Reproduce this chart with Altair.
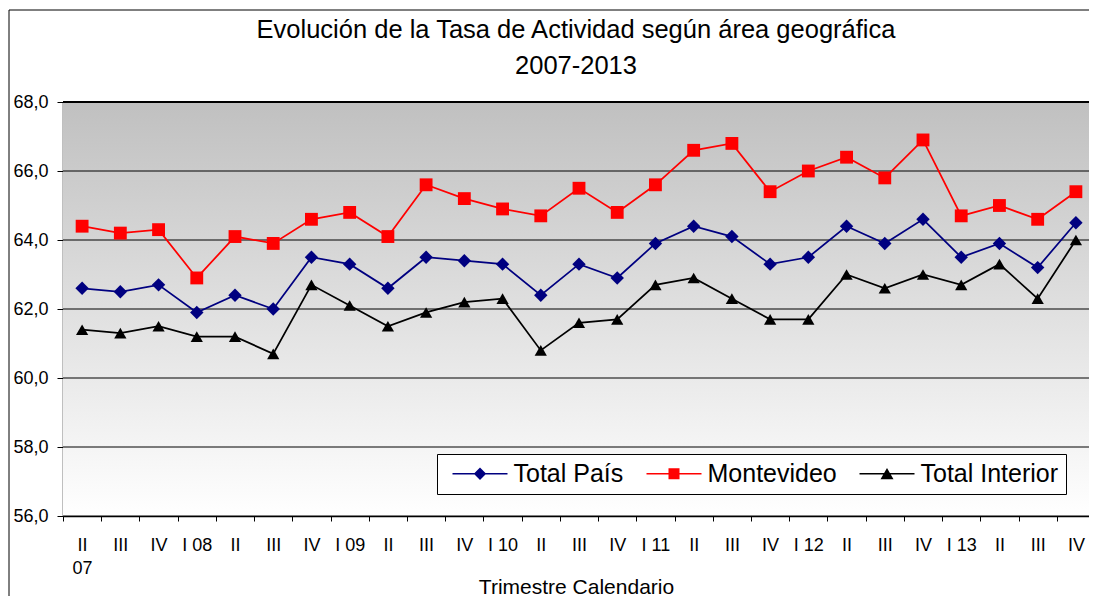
import json
import altair as alt
import pandas as pd

# ---------------- data ----------------
quarters = ["2007-II", "2007-III", "2007-IV",
            "2008-I", "2008-II", "2008-III", "2008-IV",
            "2009-I", "2009-II", "2009-III", "2009-IV",
            "2010-I", "2010-II", "2010-III", "2010-IV",
            "2011-I", "2011-II", "2011-III", "2011-IV",
            "2012-I", "2012-II", "2012-III", "2012-IV",
            "2013-I", "2013-II", "2013-III", "2013-IV"]
tick_labels = ["II|07", "III", "IV",
               "I 08", "II", "III", "IV",
               "I 09", "II", "III", "IV",
               "I 10", "II", "III", "IV",
               "I 11", "II", "III", "IV",
               "I 12", "II", "III", "IV",
               "I 13", "II", "III", "IV"]
series = ["Total País", "Montevideo", "Total Interior"]
total_pais = [62.6, 62.5, 62.7, 61.9, 62.4, 62.0, 63.5, 63.3, 62.6, 63.5, 63.4, 63.3, 62.4, 63.3,
              62.9, 63.9, 64.4, 64.1, 63.3, 63.5, 64.4, 63.9, 64.6, 63.5, 63.9, 63.2, 64.5]
montevideo = [64.4, 64.2, 64.3, 62.9, 64.1, 63.9, 64.6, 64.8, 64.1, 65.6, 65.2, 64.9, 64.7, 65.5,
              64.8, 65.6, 66.6, 66.8, 65.4, 66.0, 66.4, 65.8, 66.9, 64.7, 65.0, 64.6, 65.4]
total_interior = [61.4, 61.3, 61.5, 61.2, 61.2, 60.7, 62.7, 62.1, 61.5, 61.9, 62.2, 62.3, 60.8, 61.6,
                  61.7, 62.7, 62.9, 62.3, 61.7, 61.7, 63.0, 62.6, 63.0, 62.7, 63.3, 62.3, 64.0]
y_ticks = [56, 58, 60, 62, 64, 66, 68]

rows = []
for name, vals in zip(series, [total_pais, montevideo, total_interior]):
    for q, v in zip(quarters, vals):
        rows.append({"trimestre": q, "serie": name, "tasa": v})
df = pd.DataFrame(rows)

# ---------------- styling ----------------
W, H = 1026, 414
X_RANGE = 1032  # plot area continues slightly past the picture's right edge
FONT = "Liberation Sans"
colors = ["#000080", "#FF0000", "#000000"]
shapes = ["diamond", "square", "triangle-up"]
sizes = [180, 150, 180]

line_part = "M-2.75,-0.08H2.75V0.08H-2.75Z"
legend_paths = [
    line_part + "M0,-0.62L0.62,0L0,0.62L-0.62,0Z",
    line_part + "M-0.55,-0.55H0.55V0.55H-0.55Z",
    line_part + "M0,-0.58L0.65,0.55H-0.65Z",
]

label_map = {q: l for q, l in zip(quarters, tick_labels)}
map_js = json.dumps(label_map)
label_expr = f"isValid({map_js}[datum.value]) ? split({map_js}[datum.value], '|') : ''"

x_enc = alt.X(
    "trimestre:N", sort=quarters,
    scale=alt.Scale(type="band", paddingInner=0, paddingOuter=0, range=[0, X_RANGE]),
    axis=alt.Axis(
        title="Trimestre Calendario", labelAngle=0, labelExpr=label_expr,
        tickBand="extent", tickSize=5, tickColor="black", tickWidth=1,
        domainColor="black", domainWidth=1.5,
        labelFontSize=18, labelLineHeight=23, labelPadding=15, labelFont=FONT,
        labelColor="black", labelOverlap=False, labelFlush=False, labelBaseline="top",
        grid=False, titleFontSize=21, titleFont=FONT, titleFontWeight="normal",
        titleColor="black", titleX=513, titleAlign="center", titleY=77,
        titleBaseline="alphabetic",
    ),
)
y_scale = alt.Scale(domain=[56, 68], nice=False, zero=False)
y_axis = alt.Axis(
    title=None, values=y_ticks, grid=False,
    labelExpr="replace(format(datum.value, '.1f'), '.', ',')",
    tickSize=6, tickColor="black", domainColor="black", domainWidth=1.5,
    labelFontSize=18, labelPadding=9, labelFont=FONT, labelColor="black",
)
color_scale = alt.Scale(domain=series, range=colors)

one = alt.Data(values=[{"k": 1}])

bg = alt.Chart(one).mark_rect(
    color=alt.LinearGradient(
        gradient="linear",
        stops=[alt.GradientStop(color="#c0c0c0", offset=0),
               alt.GradientStop(color="#ffffff", offset=1)],
        x1=0, x2=0, y1=0, y2=1,
    )
).encode(x=alt.value(0), x2=alt.value(W), y=alt.value(0), y2=alt.value(H))

grid = alt.Chart(pd.DataFrame({"v": y_ticks})).mark_rule(color="black").encode(
    y=alt.Y("v:Q", scale=y_scale, axis=y_axis),
    x=alt.value(0), x2=alt.value(W),
    strokeWidth=alt.condition("datum.v == 68", alt.value(2), alt.value(1)),
)

base = alt.Chart(df).encode(
    x=x_enc,
    y=alt.Y("tasa:Q", scale=y_scale, axis=y_axis),
)
lines = base.mark_line(strokeWidth=1.75).encode(
    color=alt.Color("serie:N", scale=color_scale, legend=None),
    detail="serie:N",
)
points = base.mark_point(filled=True, opacity=1).encode(
    color=alt.Color("serie:N", scale=color_scale, legend=None),
    shape=alt.Shape("serie:N", scale=alt.Scale(domain=series, range=shapes), legend=None),
    size=alt.Size("serie:N", scale=alt.Scale(domain=series, range=sizes), legend=None),
)

leg = alt.Legend(
    title=None, orient="none", legendX=374, legendY=352, direction="horizontal",
    fillColor="white", strokeColor="black", padding=7,
    labelFontSize=25, labelFont=FONT, labelColor="black",
    symbolSize=400, symbolStrokeWidth=0, symbolOpacity=1,
    symbolOffset=23.5, labelOffset=21, columnPadding=14,
)
legend_layer = base.transform_filter("false").mark_point(filled=True).encode(
    color=alt.Color("serie:N", scale=color_scale, legend=leg),
    shape=alt.Shape("serie:N", scale=alt.Scale(domain=series, range=legend_paths), legend=leg),
)

# outer chart frame: top and left edges (the others run past the picture)
frame_top = alt.Chart(one).mark_rule(color="black", strokeWidth=1).encode(
    x=alt.value(-54), x2=alt.value(W + 80), y=alt.value(-92)
)
frame_left = alt.Chart(one).mark_rule(color="black", strokeWidth=1).encode(
    x=alt.value(-54), y=alt.value(-92), y2=alt.value(H + 140)
)

chart = alt.layer(bg, grid, lines, points, legend_layer, frame_top, frame_left).resolve_scale(
    shape="independent", color="independent"
).properties(
    width=W, height=H,
    title=alt.TitleParams(
        text=["Evolución de la Tasa de Actividad según área geográfica", "2007-2013"],
        fontSize=25.5, font=FONT, fontWeight="normal", color="black",
        anchor="middle", lineHeight=36, offset=13, dy=83, frame="group",
    ),
    padding={"left": 55, "top": 94, "right": 0, "bottom": 80},
    autosize=alt.AutoSizeParams(type="none"),
    background="white",
).configure_view(strokeWidth=0)

chart.save("out.html", embed_options={"renderer": "svg", "actions": False})
